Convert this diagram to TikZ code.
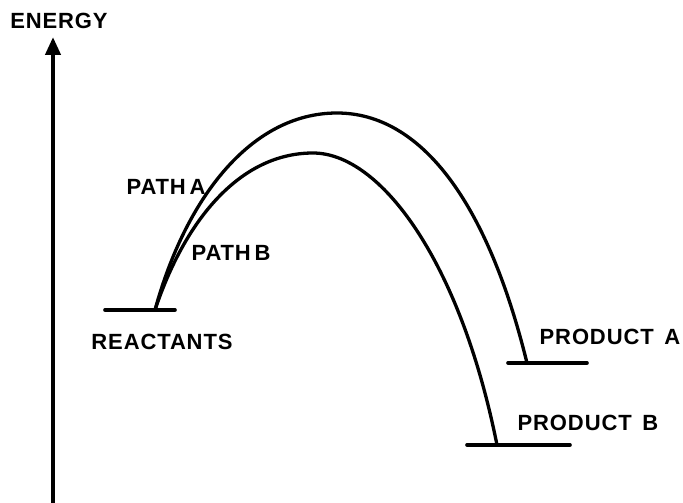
\documentclass[tikz,border=0pt]{standalone}
\usepackage{fontspec}
\newfontfamily\lblfont{Liberation Sans}[LetterSpace=4]
\usetikzlibrary{arrows.meta}
\tikzset{
  lbl/.style={inner sep=0pt, font=\lblfont\bfseries\fontsize{22}{26}\selectfont},
  level/.style={line width=3.6pt, line cap=round},
  curve/.style={line width=3.3pt},
  axis/.style={line width=4.2pt, -{Triangle[width=15pt,length=18pt]}}
}
\begin{document}
\begin{tikzpicture}[x=1pt,y=-1pt]
\useasboundingbox (0,0) rectangle (683,503);
% axis
\coordinate (axbot) at (53,503);
\coordinate (axtop) at (53,37);
\draw[axis] (axbot) -- (axtop);
\node[lbl] (energy) at (59,21) {ENERGY};
% levels
\coordinate (r1) at (105,310);
\coordinate (r2) at (175,310);
\coordinate (rs) at (155,310);
\coordinate (a1) at (508,363);
\coordinate (a2) at (587,363);
\coordinate (ae) at (527,363);
\coordinate (b1) at (467,445);
\coordinate (b2) at (570,445);
\coordinate (be) at (497,445);
\coordinate (pa) at (337,113);
\coordinate (pb) at (313,153);
\draw[level] (r1) -- (r2);
\draw[level] (a1) -- (a2);
\draw[level] (b1) -- (b2);
% paths
\draw[curve] (rs) .. controls (185,200) and (250,113) .. (pa)
  .. controls (420,113) and (487,200) .. (ae);
\draw[curve] (rs) .. controls (185,220) and (240,153) .. (pb)
  .. controls (380,153) and (460,260) .. (be);
% labels
\node[lbl] (patha) at (166,187) {PATH\,A};
\node[lbl] (pathb) at (231,253) {PATH\,B};
\node[lbl] (react) at (162,342) {REACTANTS};
\node[lbl] (proda) at (610,337) {PRODUCT\ \,A};
\node[lbl] (prodb) at (588,423) {PRODUCT\ \,B};
\end{tikzpicture}
\end{document}
